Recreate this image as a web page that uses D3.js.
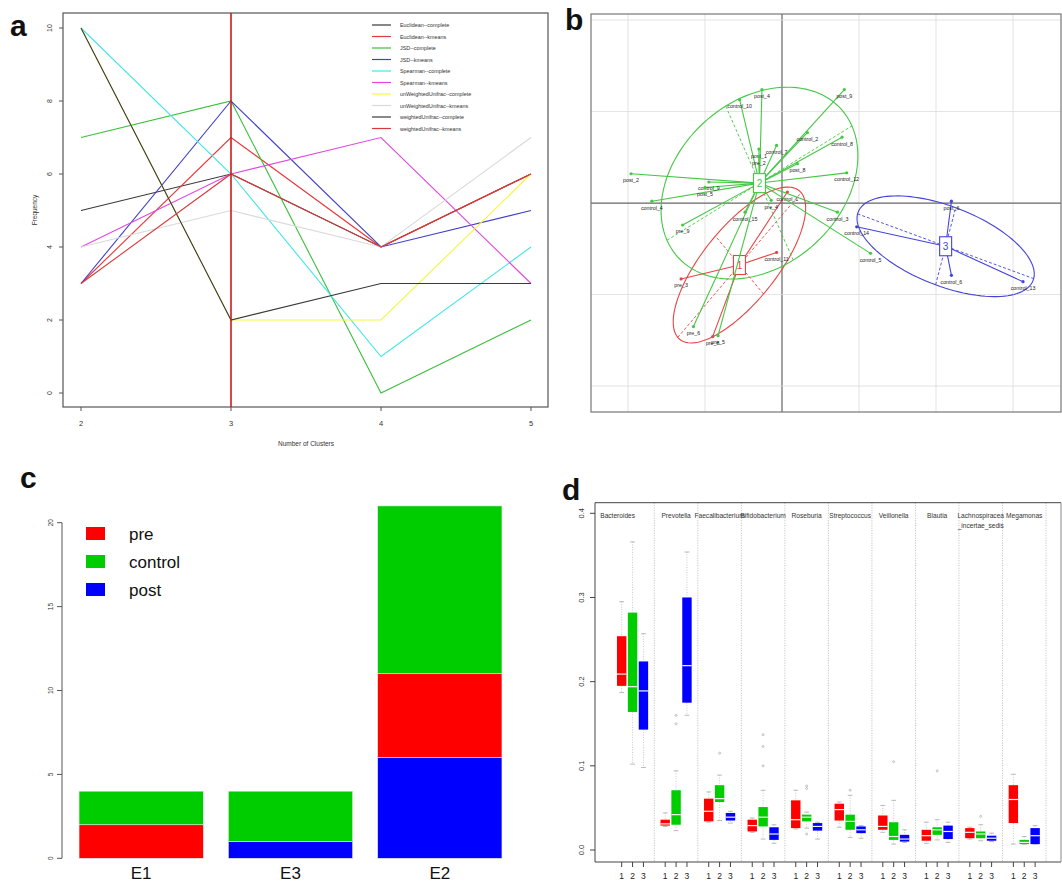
<!DOCTYPE html>
<html><head><meta charset="utf-8">
<script src="https://cdn.jsdelivr.net/npm/d3@7"></script>
<style>body{margin:0;background:#fff}svg{display:block}text{font-family:"Liberation Sans",Arial,sans-serif}</style>
</head><body><svg id="c" width="1062" height="882"></svg>
<script>
// ================= Panel a data =================
const clusterNumbers = [2, 3, 4, 5];
const methodNames = ["Euclidean--complete","Euclidean--kmeans","JSD--complete","JSD--kmeans","Spearman--complete","Spearman--kmeans","unWeightedUnifrac--complete","unWeightedUnifrac--kmeans","weightedUnifrac--complete","weightedUnifrac--kmeans"];
const methodColors = ["#3a3a3a","#e8383a","#3cbf3c","#4040c8","#44e6e6","#e048e0","#f6f640","#d9d9d9","#3a3a3a","#d83a3a"];
const freqEuclideanComplete = [5, 6, 4, 6];
const freqEuclideanKmeans = [3, 7, 4, 6];
const freqJSDComplete = [7, 8, 0, 2];
const freqJSDKmeans = [3, 8, 4, 5];
const freqSpearmanComplete = [10, 6, 1, 4];
const freqSpearmanKmeans = [4, 6, 7, 3];
const freqUnweightedComplete = [10, 2, 2, 6];
const freqUnweightedKmeans = [4, 5, 4, 7];
const freqWeightedComplete = [10, 2, 3, 3];
const freqWeightedKmeans = [3, 6, 4, 6];
const freqTicks = [0, 2, 4, 6, 8, 10];
const bestK = 3;

// ================= Panel b data =================
const sampleNames = ["post_4","control_10","post_9","control_2","control_8","control_7","post_1","pre_2","post_8","control_12","post_2","control_9","post_5","control_4","pre_4","control_15","control_3","pre_9","control_5","pre_6","pre_5",
  "control_1","control_11","pre_3","pre_8",
  "post_6","control_14","control_6","control_13"];
const sampleCluster = [2,2,2,2,2,2,2,2,2,2,2,2,2,2,2,2,2,2,2,2,2, 1,1,1,1, 3,3,3,3];
const sampleX = [-0.26,-0.55,0.81,0.33,0.78,-0.07,-0.30,-0.30,0.20,0.84,-1.96,-0.95,-1.00,-1.69,-0.14,-0.48,0.72,-1.29,1.15,-1.15,-0.83,
  0.07,-0.07,-1.31,-0.90,
  2.20,0.97,2.20,3.13];
const sampleY = [1.24,1.13,1.24,0.77,0.72,0.63,0.59,0.51,0.43,0.33,0.32,0.23,0.17,0.02,0.03,-0.10,-0.10,-0.24,-0.55,-1.35,-1.45,
  0.12,-0.54,-0.83,-1.46,
  0.02,-0.26,-0.79,-0.86];
const clusterIds = [1, 2, 3];
const clusterColorsB = ["#e84444","#44c844","#4444d8"];
const gridX = [-2, -1, 0, 1, 2, 3];
const gridY = [-2, -1, 0, 1, 2];

// ================= Panel c data =================
const enterotypes = ["E1", "E3", "E2"];
const countPost = [0, 1, 6];
const countPre = [2, 0, 5];
const countControl = [2, 3, 10];
const groupNames = ["pre", "control", "post"];
const groupColors = ["#ff0000", "#00cd00", "#0000ff"];
const countTicks = [0, 5, 10, 15, 20];

// ================= Panel d data =================
const genera = ["Bacteroides","Prevotella","Faecalibacterium","Bifidobacterium","Roseburia","Streptococcus","Veillonella","Blautia","Lachnospiracea_incertae_sedis","Megamonas"];
const generaLabelLines = [["Bacteroides"],["Prevotella"],["Faecalibacterium"],["Bifidobacterium"],["Roseburia"],["Streptococcus"],["Veillonella"],["Blautia"],["Lachnospiracea","_incertae_sedis"],["Megamonas"]];
// [lower whisker, Q1, median, Q3, upper whisker]
const statsCluster1 = [[0.187,0.195,0.209,0.254,0.295],[0.028,0.029,0.031,0.036,0.044],[0.033,0.034,0.046,0.061,0.069],[0.021,0.022,0.029,0.036,0.038],[0.025,0.026,0.036,0.059,0.071],[0.027,0.035,0.048,0.055,0.057],[0.021,0.024,0.028,0.041,0.053],[0.008,0.011,0.017,0.024,0.033],[0.013,0.014,0.021,0.026,0.027],[0.007,0.032,0.060,0.077,0.090]];
const statsCluster2 = [[0.102,0.164,0.194,0.282,0.366],[0.023,0.030,0.042,0.071,0.094],[0.035,0.057,0.061,0.077,0.089],[0.013,0.028,0.039,0.051,0.071],[0.026,0.034,0.039,0.042,0.045],[0.015,0.024,0.034,0.042,0.065],[0.007,0.012,0.016,0.033,0.059],[0.012,0.018,0.024,0.027,0.036],[0.011,0.014,0.019,0.022,0.030],[0.007,0.007,0.009,0.012,0.016]];
const statsCluster3 = [[0.098,0.143,0.189,0.224,0.257],[0.160,0.175,0.219,0.300,0.354],[0.032,0.035,0.039,0.044,0.046],[0.008,0.012,0.019,0.027,0.030],[0.013,0.023,0.028,0.032,0.033],[0.014,0.020,0.024,0.028,0.029],[0.009,0.010,0.013,0.018,0.024],[0.009,0.013,0.022,0.029,0.033],[0.010,0.011,0.014,0.017,0.020],[0.007,0.007,0.017,0.026,0.029]];
const outliersCluster1 = [[],[],[],[],[],[],[],[],[],[]];
const outliersCluster2 = [[],[0.150,0.160],[0.115],[0.100,0.123,0.137],[0.019,0.073,0.076],[0.071],[0.105],[0.094],[0.040],[]];
const outliersCluster3 = [[],[],[],[],[],[],[],[],[],[]];
const boxColors = ["#ff0000","#00cd00","#0000ff"];
const abundanceTicks = [0.0, 0.1, 0.2, 0.3, 0.4];

// =================================================
const svg = d3.select("#c");
svg.append("rect").attr("width",1062).attr("height",882).attr("fill","#fff");

function panelLetter(t, x, y){
  svg.append("text").attr("x",x).attr("y",y).text(t)
    .attr("font-size",30).attr("font-weight","bold").attr("fill","#111");
}
function rotatedYLabels(g, scale, ticks, x, fmt, size){
  ticks.forEach(v=>{
    const y = scale(v);
    g.append("text").attr("transform",`translate(${x},${y}) rotate(-90)`)
      .attr("text-anchor","middle").attr("font-size",size).attr("fill","#333").text(fmt(v));
  });
}

// ---------------- Panel a ----------------
(function(){
  const g = svg.append("g");
  const x = d3.scaleLinear().domain([2,5]).range([81,531]);
  const y = d3.scaleLinear().domain([0,10]).range([393,28]);
  const series = [freqEuclideanComplete,freqEuclideanKmeans,freqJSDComplete,freqJSDKmeans,freqSpearmanComplete,freqSpearmanKmeans,freqUnweightedComplete,freqUnweightedKmeans,freqWeightedComplete,freqWeightedKmeans];
  const line = d3.line().x((d,i)=>x(clusterNumbers[i])).y(d=>y(d));
  series.forEach((s,i)=>{
    g.append("path").attr("d",line(s)).attr("fill","none").attr("stroke",methodColors[i]).attr("stroke-width",1.1);
  });
  g.append("rect").attr("x",63).attr("y",13).attr("width",485).attr("height",394).attr("fill","none").attr("stroke","#555").attr("stroke-width",1.2);
  g.append("line").attr("x1",x(bestK)).attr("x2",x(bestK)).attr("y1",13).attr("y2",407).attr("stroke","#d01818").attr("stroke-width",1.6);
  freqTicks.forEach(v=>{
    g.append("line").attr("x1",59).attr("x2",63).attr("y1",y(v)).attr("y2",y(v)).attr("stroke","#555");
  });
  rotatedYLabels(g, y, freqTicks, 52, d=>d, 7);
  clusterNumbers.forEach(v=>{
    g.append("line").attr("x1",x(v)).attr("x2",x(v)).attr("y1",407).attr("y2",411).attr("stroke","#555");
    g.append("text").attr("x",x(v)).attr("y",426).attr("text-anchor","middle").attr("font-size",7.5).attr("fill","#333").text(v);
  });
  g.append("text").attr("x",306).attr("y",446).attr("text-anchor","middle").attr("font-size",6.5).attr("fill","#333").text("Number of Clusters");
  g.append("text").attr("transform","translate(37,210) rotate(-90)").attr("text-anchor","middle").attr("font-size",6.5).attr("fill","#333").text("Frequency");
  methodNames.forEach((m,i)=>{
    const yy = 25 + i*11.5;
    g.append("line").attr("x1",372).attr("x2",391).attr("y1",yy).attr("y2",yy).attr("stroke",methodColors[i]).attr("stroke-width",1.2);
    g.append("text").attr("x",400).attr("y",yy+2).attr("font-size",5.4).attr("fill","#333").text(m);
  });
  panelLetter("a", 10, 36);
})();

// ---------------- Panel b ----------------
(function(){
  const g = svg.append("g");
  const x = d3.scaleLinear().domain([-2.48, 3.61]).range([591, 1060]);
  const y = d3.scaleLinear().domain([-2.284, 2.066]).range([412, 14]);
  const L=591, R=1061, T=14, B=412;
  gridX.forEach(v=>{ g.append("line").attr("x1",x(v)).attr("x2",x(v)).attr("y1",T).attr("y2",B).attr("stroke",v===0?"#666":"#dcdcdc").attr("stroke-width",v===0?1.2:0.8); });
  gridY.forEach(v=>{ g.append("line").attr("x1",L).attr("x2",R).attr("y1",y(v)).attr("y2",y(v)).attr("stroke",v===0?"#666":"#dcdcdc").attr("stroke-width",v===0?1.2:0.8); });
  g.append("rect").attr("x",L).attr("y",T).attr("width",R-L).attr("height",B-T).attr("fill","none").attr("stroke","#777").attr("stroke-width",1.2);

  clusterIds.forEach((cid,ci)=>{
    const idx = sampleCluster.map((c,i)=>c===cid?i:-1).filter(i=>i>=0);
    const n = idx.length;
    const mx = d3.mean(idx,i=>sampleX[i]), my = d3.mean(idx,i=>sampleY[i]);
    const vxx = d3.sum(idx,i=>(sampleX[i]-mx)**2)/n;
    const vyy = d3.sum(idx,i=>(sampleY[i]-my)**2)/n;
    const vxy = d3.sum(idx,i=>(sampleX[i]-mx)*(sampleY[i]-my))/n;
    const tr = vxx+vyy, det = vxx*vyy-vxy*vxy;
    const disc = Math.sqrt(Math.max(0,tr*tr/4-det));
    const l1 = tr/2+disc, l2 = Math.max(0,tr/2-disc);
    let v1 = Math.abs(vxy)>1e-12 ? [l1-vyy, vxy] : (vxx>=vyy?[1,0]:[0,1]);
    const nv = Math.hypot(v1[0],v1[1]); v1=[v1[0]/nv,v1[1]/nv];
    const v2 = [-v1[1], v1[0]];
    const a = 1.5*Math.sqrt(l1), b = 1.5*Math.sqrt(l2);
    const col = clusterColorsB[ci];
    const pts = d3.range(0,361,3).map(t=>{
      const r = t*Math.PI/180;
      return [x(mx + a*Math.cos(r)*v1[0] + b*Math.sin(r)*v2[0]), y(my + a*Math.cos(r)*v1[1] + b*Math.sin(r)*v2[1])];
    });
    g.append("path").attr("d",d3.line()(pts)).attr("fill","none").attr("stroke",col).attr("stroke-width",1.1);
    [[v1,a],[v2,b]].forEach(([v,len])=>{
      g.append("line").attr("x1",x(mx-len*v[0])).attr("y1",y(my-len*v[1])).attr("x2",x(mx+len*v[0])).attr("y2",y(my+len*v[1]))
        .attr("stroke",col).attr("stroke-width",0.9).attr("stroke-dasharray","3,2");
    });
    idx.forEach(i=>{
      g.append("line").attr("x1",x(mx)).attr("y1",y(my)).attr("x2",x(sampleX[i])).attr("y2",y(sampleY[i])).attr("stroke",col).attr("stroke-width",1.1);
    });
    idx.forEach(i=>{
      g.append("circle").attr("cx",x(sampleX[i])).attr("cy",y(sampleY[i])).attr("r",1.6).attr("fill",col);
      g.append("text").attr("x",x(sampleX[i])).attr("y",y(sampleY[i])+8.5).attr("text-anchor","middle").attr("font-size",5.3).attr("fill","#222").text(sampleNames[i]);
    });
    g.append("rect").attr("x",x(mx)-6).attr("y",y(my)-9.5).attr("width",12).attr("height",19).attr("fill","#fff").attr("stroke",col).attr("stroke-width",1.1);
    g.append("text").attr("x",x(mx)).attr("y",y(my)+4).attr("text-anchor","middle").attr("font-size",10).attr("fill",col).text(cid);
  });
  panelLetter("b", 565, 30);
})();

// ---------------- Panel c ----------------
(function(){
  const g = svg.append("g");
  const x = d3.scaleBand().domain(enterotypes).range([66.5,514.5]).paddingInner(0.168).paddingOuter(0.084);
  const y = d3.scaleLinear().domain([0,20]).range([858.3,522.7]);
  const layers = [countPost, countPre, countControl];
  const layerColors = [groupColors[2], groupColors[0], groupColors[1]];
  enterotypes.forEach((e,j)=>{
    let base = 0;
    layers.forEach((arr,li)=>{
      const v = arr[j];
      if (v>0){
        g.append("rect").attr("x",x(e)).attr("width",x.bandwidth()).attr("y",y(base+v)).attr("height",y(base)-y(base+v))
          .attr("fill",layerColors[li]).attr("stroke","#e6e6e6").attr("stroke-width",0.6);
      }
      base += v;
    });
    g.append("text").attr("x",x(e)+x.bandwidth()/2).attr("y",879).attr("text-anchor","middle").attr("font-size",17).attr("fill","#111").text(e);
  });
  g.append("line").attr("x1",62).attr("x2",62).attr("y1",y(0)).attr("y2",y(20)).attr("stroke","#555");
  countTicks.forEach(v=>{ g.append("line").attr("x1",57).attr("x2",62).attr("y1",y(v)).attr("y2",y(v)).attr("stroke","#555"); });
  rotatedYLabels(g, y, countTicks, 53, d=>d, 6.5);
  groupNames.forEach((n,i)=>{
    const yy = 527 + i*28;
    g.append("rect").attr("x",86).attr("y",yy).attr("width",19).attr("height",13).attr("fill",groupColors[i]);
    g.append("text").attr("x",129).attr("y",yy+13).attr("font-size",17).attr("fill","#111").text(n);
  });
  panelLetter("c", 20, 488);
})();

// ---------------- Panel d ----------------
(function(){
  const g = svg.append("g");
  const slot = d3.scaleLinear().domain([0,40]).range([610.8, 1046]);
  const y = d3.scaleLinear().domain([0,0.4]).range([850,513.3]);
  const L=595, R=1061, T=502.7, B=862;
  genera.forEach((gn,gi)=>{
    const sx = slot(gi*4+4);
    g.append("line").attr("x1",sx).attr("x2",sx).attr("y1",T).attr("y2",B).attr("stroke","#aaa").attr("stroke-width",0.8).attr("stroke-dasharray","1,1.5");
    const cx = gi===0 ? (L+slot(4))/2 - 7 : slot(gi*4+2);
    generaLabelLines[gi].forEach((ln,k)=>{
      g.append("text").attr("x",cx).attr("y",518 + k*10).attr("text-anchor","middle").attr("font-size",6.6)
        .attr("font-family","'Liberation Serif','DejaVu Serif',serif").attr("fill","#333").text(ln);
    });
  });
  const allStats = [statsCluster1, statsCluster2, statsCluster3];
  const allOut = [outliersCluster1, outliersCluster2, outliersCluster3];
  const bw = 9.4;
  genera.forEach((gn,gi)=>{
    [0,1,2].forEach(b=>{
      const cx = slot(gi*4+b+1);
      const s = allStats[b][gi];
      g.append("line").attr("x1",cx).attr("x2",cx).attr("y1",y(s[4])).attr("y2",y(s[3])).attr("stroke","#bbb").attr("stroke-width",0.8).attr("stroke-dasharray","1,1.5");
      g.append("line").attr("x1",cx).attr("x2",cx).attr("y1",y(s[1])).attr("y2",y(s[0])).attr("stroke","#bbb").attr("stroke-width",0.8).attr("stroke-dasharray","1,1.5");
      [s[0],s[4]].forEach(v=>{
        g.append("line").attr("x1",cx-2.4).attr("x2",cx+2.4).attr("y1",y(v)).attr("y2",y(v)).attr("stroke","#aaa").attr("stroke-width",0.8);
      });
      g.append("rect").attr("x",cx-bw/2).attr("width",bw).attr("y",y(s[3])).attr("height",Math.max(1,y(s[1])-y(s[3]))).attr("fill",boxColors[b]);
      g.append("line").attr("x1",cx-bw/2).attr("x2",cx+bw/2).attr("y1",y(s[2])).attr("y2",y(s[2])).attr("stroke","#f4f4f4").attr("stroke-width",1.2);
      allOut[b][gi].forEach(v=>{
        g.append("circle").attr("cx",cx).attr("cy",y(v)).attr("r",1).attr("fill","none").attr("stroke","#aaa").attr("stroke-width",0.7);
      });
      g.append("line").attr("x1",cx).attr("x2",cx).attr("y1",B).attr("y2",B+5).attr("stroke","#444");
      g.append("text").attr("x",cx).attr("y",879).attr("text-anchor","middle").attr("font-size",8.5).attr("fill","#222").text(b+1);
    });
  });
  g.append("line").attr("x1",L).attr("x2",R).attr("y1",T).attr("y2",T).attr("stroke","#444").attr("stroke-width",1);
  g.append("line").attr("x1",L).attr("x2",R).attr("y1",B).attr("y2",B).attr("stroke","#444").attr("stroke-width",1);
  g.append("line").attr("x1",L).attr("x2",L).attr("y1",T).attr("y2",B).attr("stroke","#444").attr("stroke-width",1);
  g.append("line").attr("x1",R).attr("x2",R).attr("y1",T).attr("y2",B).attr("stroke","#888").attr("stroke-width",1);
  abundanceTicks.forEach(v=>{ g.append("line").attr("x1",590).attr("x2",L).attr("y1",y(v)).attr("y2",y(v)).attr("stroke","#444"); });
  rotatedYLabels(g, y, abundanceTicks, 584, d=>d.toFixed(1), 7.5);
  panelLetter("d", 562, 500);
})();
</script></body></html>
